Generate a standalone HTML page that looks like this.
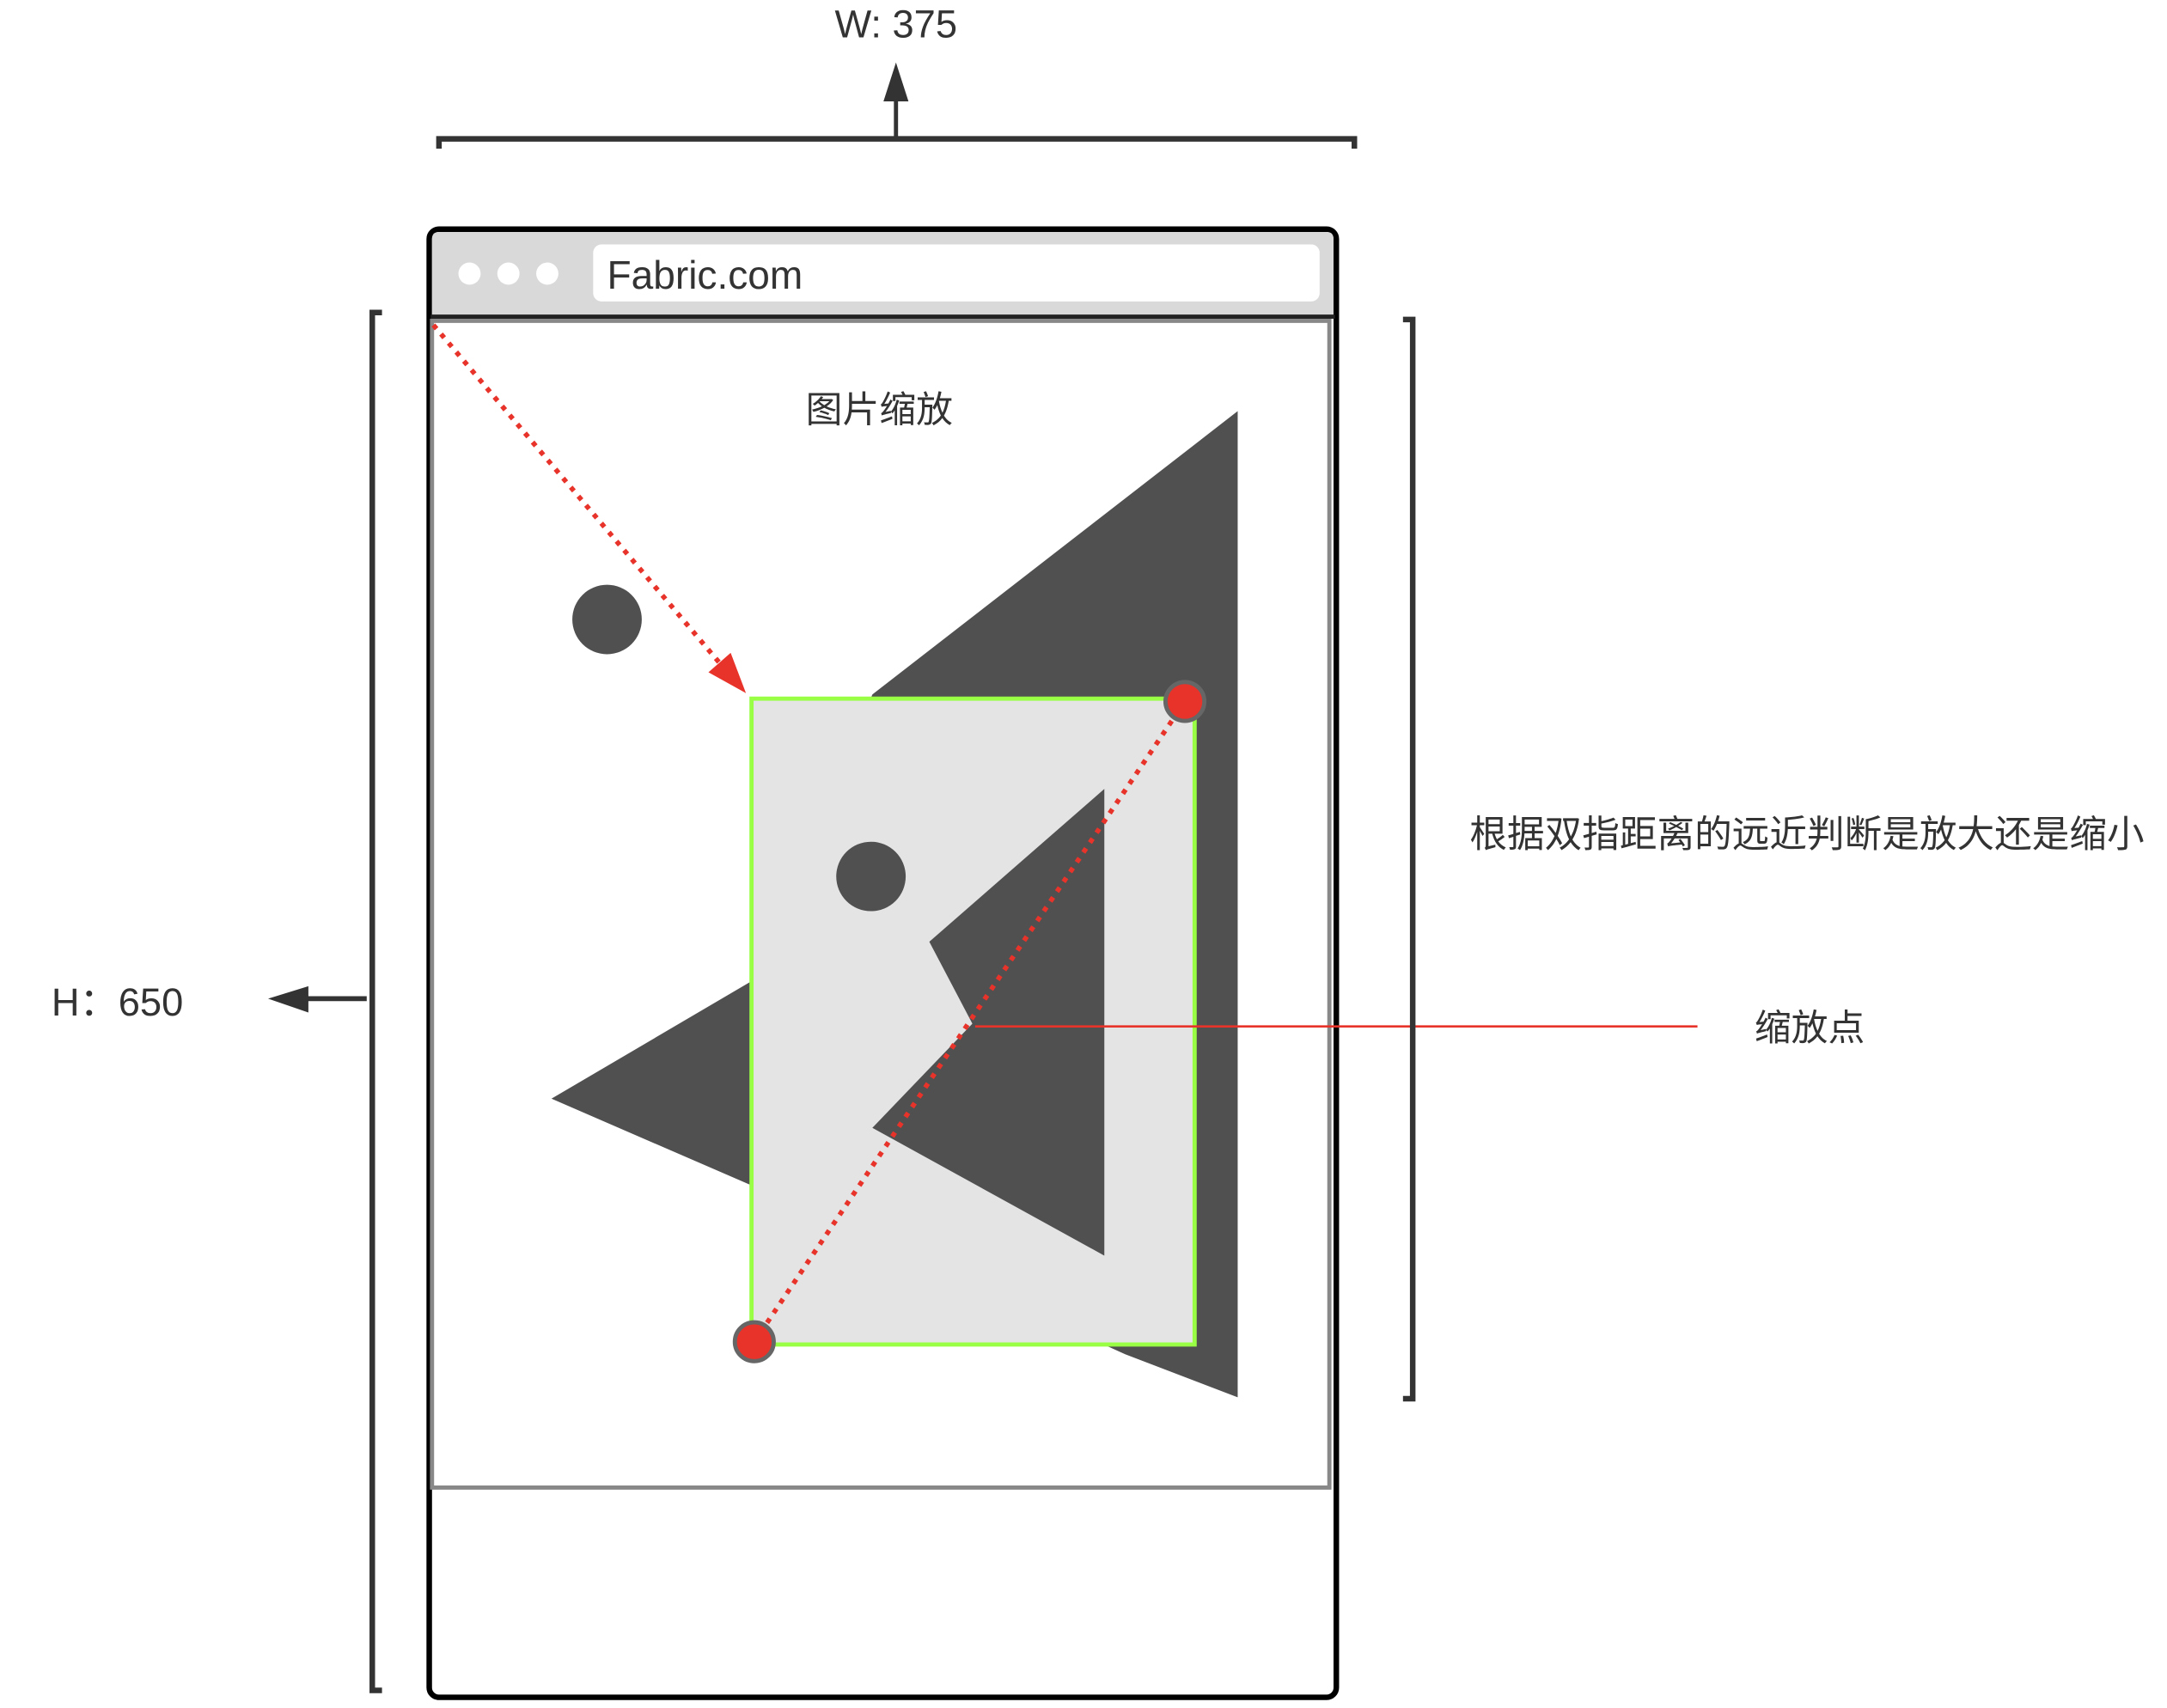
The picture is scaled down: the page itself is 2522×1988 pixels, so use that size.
<!DOCTYPE html>
<html><head><meta charset="utf-8"><style>
html,body{margin:0;padding:0;background:#fff;width:2522px;height:1988px;overflow:hidden}
svg{display:block}
text{font-family:"Liberation Sans","Noto Sans CJK SC",sans-serif;fill:#333}
</style></head><body>
<svg width="2522" height="1988" viewBox="0 0 1560 1229.7" xmlns="http://www.w3.org/2000/svg">
<!-- W label -->
<text x="645" y="27" font-size="28" text-anchor="middle">W: 375</text>
<line x1="645" y1="100" x2="645" y2="70" stroke="#333" stroke-width="3"/>
<polygon points="645,45 636,73 654,73" fill="#333"/>
<polyline points="316,107 316,100 975,100 975,107" fill="none" stroke="#333" stroke-width="4"/>
<!-- phone -->
<rect x="309" y="165" width="653" height="1057" rx="7" fill="#fff" stroke="#000" stroke-width="4"/>
<path d="M311,228 L311,172 Q311,167 316,167 L955,167 Q960,167 960,172 L960,228 Z" fill="#d9d9d9"/>
<line x1="310" y1="228" x2="961" y2="228" stroke="#222" stroke-width="3"/>
<circle cx="338" cy="197" r="8" fill="#fff"/>
<circle cx="366" cy="197" r="8" fill="#fff"/>
<circle cx="394" cy="197" r="8" fill="#fff"/>
<rect x="427" y="176" width="523" height="41" rx="6" fill="#fff"/>
<text x="437" y="208" font-size="28.5">Fabric.com</text>
<rect x="311" y="231" width="646" height="840" fill="#fff" stroke="#888" stroke-width="3"/>
<text x="633" y="304" font-size="26.5" text-anchor="middle">图片缩放</text>
<!-- shapes -->
<polygon points="891,296 628,500 540,707 397,791 540,853 810,975 891,1006" fill="#505050"/>
<circle cx="437" cy="446" r="25" fill="#505050"/>
<rect x="541" y="503" width="319" height="465" fill="#e4e4e4" stroke="#99ff44" stroke-width="3"/>
<polygon points="795,568 795,904 628,812 700,737 669,678" fill="#505050"/>
<circle cx="627" cy="631" r="25" fill="#505050"/>
<!-- red dotted -->
<line x1="312" y1="234" x2="522" y2="482" stroke="#e8332a" stroke-width="3.5" stroke-dasharray="3.5 5"/>
<polygon points="537,499 510,484 526,470" fill="#e8332a"/>
<line x1="853" y1="505" x2="543" y2="966" stroke="#e8332a" stroke-width="3.5" stroke-dasharray="3.5 5"/>
<line x1="702" y1="739" x2="1222" y2="739" stroke="#e8332a" stroke-width="1.6"/>
<circle cx="853" cy="505" r="14" fill="#e8332a" stroke="#666" stroke-width="3"/>
<circle cx="543" cy="966" r="14" fill="#e8332a" stroke="#666" stroke-width="3"/>
<!-- right bracket -->
<polyline points="1010,230 1017,230 1017,1007 1010,1007" fill="none" stroke="#333" stroke-width="4"/>
<text x="1058" y="610" font-size="27">根据双指距离的远近判断是放大还是缩小</text>
<text x="1263" y="749" font-size="26.5">缩放点</text>
<!-- left bracket -->
<polyline points="275,225 268,225 268,1217 275,1217" fill="none" stroke="#333" stroke-width="4"/>
<line x1="264" y1="719" x2="215" y2="719" stroke="#333" stroke-width="3.5"/>
<polygon points="193,719 222,710 222,729" fill="#333"/>
<text x="37" y="731" font-size="28">H：650</text>
</svg>
</body></html>
